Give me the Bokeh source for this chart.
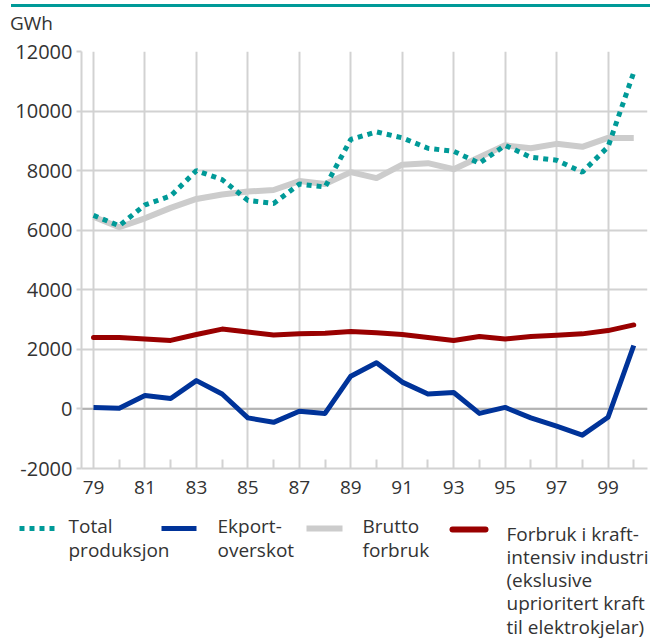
from bokeh.plotting import figure
from bokeh.layouts import column
from bokeh.models import Range1d, FixedTicker, Span, Div
from bokeh.core.properties import value
from bokeh.embed import file_html
from bokeh.resources import INLINE

# ---- data ----
years = list(range(79, 101))
total_produksjon = [6500, 6150, 6850, 7150, 8000, 7700, 7000, 6900, 7550, 7450, 9050,
                    9300, 9100, 8750, 8650, 8250, 8850, 8450, 8350, 7950, 8800, 11300]
eksport_overskot = [50, 20, 450, 350, 950, 500, -300, -450, -80, -150, 1100,
                    1550, 900, 500, 550, -150, 50, -300, -580, -880, -280, 2130]
brutto_forbruk = [6450, 6100, 6400, 6750, 7050, 7200, 7300, 7350, 7650, 7550, 7950,
                  7750, 8200, 8250, 8050, 8450, 8850, 8750, 8900, 8800, 9100, 9100]
kraftintensiv = [2400, 2400, 2350, 2300, 2500, 2680, 2580, 2480, 2520, 2540, 2600,
                 2560, 2500, 2400, 2300, 2430, 2350, 2430, 2470, 2520, 2630, 2820]

x_ticks = [79, 81, 83, 85, 87, 89, 91, 93, 95, 97, 99]
x_tick_labels = ["79", "81", "83", "85", "87", "89", "91", "93", "95", "97", "99"]
x_minor = [80, 82, 84, 86, 88, 90, 92, 94, 96, 98, 100]
y_ticks = [-2000, 0, 2000, 4000, 6000, 8000, 10000, 12000]
y_tick_labels = ["-2000", "0", "2000", "4000", "6000", "8000", "10000", "12000"]
unit_label = "GWh"

legend_labels = [
    ["Total", "produksjon"],
    ["Ekport-", "overskot"],
    ["Brutto", "forbruk"],
    ["Forbruk i kraft-", "intensiv industri", "(ekslusive", "uprioritert kraft", "til elektrokjelar)"],
]

# ---- styles ----
TEAL = "#009a98"
BLUE = "#003399"
GRAY = "#cccccc"
RED = "#990000"
GRID = "#d2d2d2"
TXT = "#333333"
FONT = "Open Sans"

W = 650
HEAD_H = 34
MAIN_H = 471
LEG_H = 136

head_html = (
    f'<div style="position:relative;width:{W}px;height:{HEAD_H}px;">'
    f'<div style="position:absolute;left:11px;top:4px;width:{W - 11}px;height:3px;background:{TEAL};"></div>'
    f'<div style="position:absolute;left:10px;top:14px;font-family:\'{FONT}\';font-size:19px;'
    f'line-height:19px;color:{TXT};">{unit_label}</div>'
    '</div>'
)
head = Div(text=head_html, width=W, height=HEAD_H, margin=(0, 0, 0, 0))

p = figure(width=W, height=MAIN_H, output_backend="svg", toolbar_location=None,
           x_range=Range1d(78.5334, 100.534), y_range=Range1d(-2000, 12000),
           min_border_left=81, min_border_right=3, min_border_top=17, min_border_bottom=37)
p.frame_align = False
p.outline_line_color = None

# axes
xa = p.xaxis[0]
xa.ticker = FixedTicker(ticks=x_ticks, minor_ticks=x_minor)
xa.major_label_overrides = {t: l for t, l in zip(x_ticks, x_tick_labels)}
xa.major_tick_in = 0
xa.major_tick_out = 0
xa.minor_tick_in = 9
xa.minor_tick_out = 0
xa.minor_tick_line_color = GRID
xa.minor_tick_line_width = 2
xa.axis_line_color = GRID
xa.axis_line_width = 2
xa.major_label_standoff = 12
xa.major_label_text_font = FONT
xa.major_label_text_font_size = "19px"
xa.major_label_text_color = TXT

ya = p.yaxis[0]
ya.ticker = FixedTicker(ticks=y_ticks)
ya.major_label_overrides = {t: l for t, l in zip(y_ticks, y_tick_labels)}
ya.major_tick_in = 0
ya.major_tick_out = 5
ya.major_tick_line_color = GRID
ya.major_tick_line_width = 2
ya.minor_tick_line_color = None
ya.axis_line_color = GRID
ya.axis_line_width = 2
ya.major_label_standoff = 4
ya.major_label_text_font = FONT
ya.major_label_text_font_size = "20px"
ya.major_label_text_color = TXT

p.xgrid.grid_line_color = GRID
p.xgrid.grid_line_width = 2
p.ygrid.grid_line_color = GRID
p.ygrid.grid_line_width = 2

p.add_layout(Span(location=0, dimension="width", line_color="#a8a8a8",
                  line_width=1.5, level="underlay"))

# series
p.line(years, brutto_forbruk, line_color=GRAY, line_width=6, line_join="round")
p.line(years, kraftintensiv, line_color=RED, line_width=5, line_join="round", line_cap="round")
p.line(years, eksport_overskot, line_color=BLUE, line_width=5, line_join="round")
p.line(years, total_produksjon, line_color=TEAL, line_width=5, line_dash="5 5")

# ---- legend panel (pixel space) ----
lg = figure(width=W, height=LEG_H, output_backend="svg", toolbar_location=None,
            x_range=Range1d(0, W), y_range=Range1d(LEG_H, 0),
            min_border=0, min_border_left=0, min_border_right=0,
            min_border_top=0, min_border_bottom=0)
lg.frame_align = False
lg.axis.visible = False
lg.grid.visible = False
lg.outline_line_color = None

swatches = [
    dict(x=[19, 54], y=[23, 23], line_color=TEAL, line_width=5, line_dash="5 5"),
    dict(x=[161, 196], y=[23, 23], line_color=BLUE, line_width=5),
    dict(x=[306, 342], y=[23, 23], line_color=GRAY, line_width=6),
    dict(x=[452, 485], y=[24, 24], line_color=RED, line_width=6, line_cap="round"),
]
for s in swatches:
    lg.line(**s)

text_x = [68, 217, 362, 506]
text_y0 = [20.6, 20.6, 20.6, 28.0]
line_step = 23.3
for lines, tx, ty in zip(legend_labels, text_x, text_y0):
    step = 24 if len(lines) == 2 else line_step
    lg.text(x=[tx] * len(lines), y=[ty + i * step for i in range(len(lines))],
            text=lines, text_font=value(FONT), text_font_size="19px",
            text_color=TXT, text_baseline="alphabetic", text_align="left")

layout = column(head, p, lg, spacing=0)
open("out.html", "w").write(file_html(layout, INLINE))
